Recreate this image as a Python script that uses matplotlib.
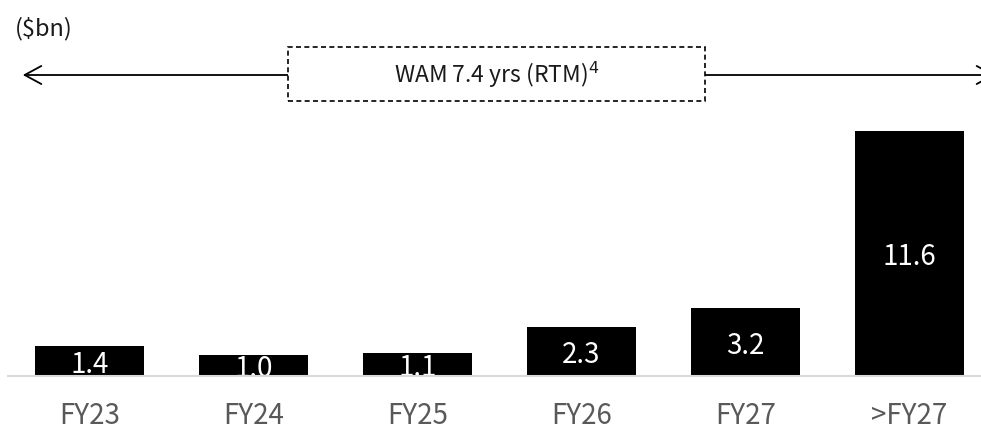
import matplotlib
matplotlib.use("Agg")
import matplotlib.pyplot as plt
from matplotlib.patches import Rectangle, FancyArrowPatch

plt.rcParams['font.family'] = ['Noto Sans CJK SC', 'DejaVu Sans']

categories = ["FY23", "FY24", "FY25", "FY26", "FY27", ">FY27"]
values = [1.4, 1.0, 1.1, 2.3, 3.2, 11.6]
value_labels = ["1.4", "1.0", "1.1", "2.3", "3.2", "11.6"]
unit_label = "($bn)"
wam_label = "WAM 7.4 yrs (RTM)$^{4}$"

W, H = 981, 430
fig = plt.figure(figsize=(W / 100, H / 100), dpi=100)

# axes: baseline at y=376px from top
ax = fig.add_axes([8 / W, 54 / H, 1 - 8 / W, (H - 54) / H])
spacing = 164.0
ax.set_xlim((8 - 89.5) / spacing, (981 - 89.5) / spacing)
ax.set_ylim(0, 376 / 21.1)
x = list(range(len(categories)))
bars = ax.bar(x, values, width=109 / spacing, color="black", zorder=2)
for xi, v, lab in zip(x, values, value_labels):
    ax.text(xi, v / 2, lab, color="white", ha="center", va="center_baseline",
            fontsize=20, zorder=3)
for s in ["top", "left", "right"]:
    ax.spines[s].set_visible(False)
ax.spines["bottom"].set_color("#d9d9d9")
ax.spines["bottom"].set_linewidth(1.5)
ax.spines["bottom"].set_zorder(4)
ax.set_yticks([])
ax.set_xticks(x)
ax.set_xticklabels(categories, fontsize=20, color="#595959")
ax.tick_params(axis="x", length=0, pad=18)
ax.patch.set_alpha(0)

# unit label
fig.text(15 / W, 1 - 29 / H, unit_label, fontsize=17, ha="left", va="center",
         color="#1a1a1a")

# arrow
ya = 1 - 75 / H
arr = FancyArrowPatch((20 / W, ya), (998 / W, ya), transform=fig.transFigure,
                      arrowstyle="<->,head_length=12,head_width=6.5",
                      color="black", lw=1.3, mutation_scale=1)
fig.add_artist(arr)
box = Rectangle((288 / W, 1 - 101 / H), (705 - 288) / W, (101 - 47) / H,
                transform=fig.transFigure, facecolor="white", edgecolor="black",
                linestyle=(0, (3, 2)), lw=1.2, zorder=5)
fig.add_artist(box)
fig.text((288 + 705) / 2 / W, ya, wam_label, fontsize=16.5, ha="center",
         va="center", color="#1a1a1a", zorder=6)

fig.savefig("out.png", dpi=100)
